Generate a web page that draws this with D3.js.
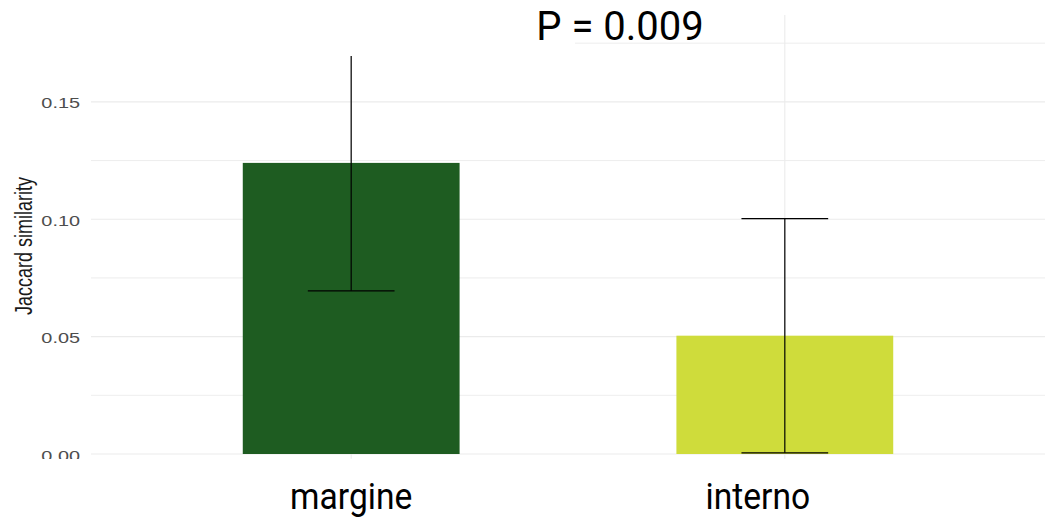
<!DOCTYPE html>
<html>
<head>
<meta charset="utf-8">
<script src="https://cdn.jsdelivr.net/npm/d3@7"></script>
<style>
  html, body { margin: 0; padding: 0; background: #fff; }
  svg { display: block; }
</style>
</head>
<body>
<svg id="chart" width="1046" height="524"></svg>
<script>
// Mean Jaccard similarity per zone, with standard deviation
const categories = ["margine", "interno"];
const meanValues = [0.124, 0.0504];
const sdValues = [0.0545, 0.0499];
const barColors = ["#1e5c21", "#cfdc3b"];
const majorTicks = [0, 0.05, 0.10, 0.15];
const minorTicks = [0.025, 0.075, 0.125, 0.175];
const pLabel = "P = 0.009";
const yTitle = "Jaccard similarity";

const svg = d3.select("#chart");
const W = 1046, H = 524;

// Panel geometry
const panel = { left: 91, right: 1045, top: 15, bottom: 458.7 };

// Discrete axis positions 1..n with ggplot-like 0.6 expansion
const x = d3.scaleLinear()
  .domain([0.4, categories.length + 0.6])
  .range([panel.left, panel.right]);
const xPos = i => x(i + 1);

const y = d3.scaleLinear()
  .domain([-0.002, 0.187])
  .range([panel.bottom, panel.top]);

const gridColor = "#ebebeb";

// Horizontal grid: minor then major
svg.append("g").selectAll("line.minor")
  .data(minorTicks).join("line")
  .attr("x1", panel.left).attr("x2", panel.right)
  .attr("y1", d => y(d)).attr("y2", d => y(d))
  .attr("stroke", gridColor).attr("stroke-width", 0.9);

svg.append("g").selectAll("line.major")
  .data(majorTicks).join("line")
  .attr("x1", panel.left).attr("x2", panel.right)
  .attr("y1", d => y(d)).attr("y2", d => y(d))
  .attr("stroke", gridColor).attr("stroke-width", 1.1);

// Vertical grid at each category
svg.append("g").selectAll("line")
  .data(categories).join("line")
  .attr("x1", (d, i) => xPos(i)).attr("x2", (d, i) => xPos(i))
  .attr("y1", panel.top).attr("y2", panel.bottom)
  .attr("stroke", gridColor).attr("stroke-width", 1.1);

// Bars (width 0.5 of a category step)
const step = x(2) - x(1);
const barW = step * 0.5;
svg.append("g").selectAll("rect")
  .data(categories).join("rect")
  .attr("x", (d, i) => xPos(i) - barW / 2)
  .attr("width", barW)
  .attr("y", (d, i) => y(meanValues[i]))
  .attr("height", (d, i) => y(0) - y(meanValues[i]))
  .attr("fill", (d, i) => barColors[i]);

// Error bars (cap width 0.2 of a step)
const capW = step * 0.2;
const eb = svg.append("g").attr("stroke", "#000").attr("stroke-width", 1.2).attr("fill", "none");
categories.forEach((c, i) => {
  const cx = xPos(i);
  const lo = y(meanValues[i] - sdValues[i]);
  const hi = y(meanValues[i] + sdValues[i]);
  eb.append("line").attr("x1", cx).attr("x2", cx).attr("y1", hi).attr("y2", lo);
  eb.append("line").attr("x1", cx - capW / 2).attr("x2", cx + capW / 2).attr("y1", hi).attr("y2", hi);
  eb.append("line").attr("x1", cx - capW / 2).attr("x2", cx + capW / 2).attr("y1", lo).attr("y2", lo);
});

// Opaque backing behind the p-value annotation
svg.append("rect")
  .attr("x", 0).attr("y", 0).attr("width", 575).attr("height", 56)
  .attr("fill", "#fff");

svg.append("text")
  .attr("x", 620).attr("y", 40)
  .attr("text-anchor", "middle")
  .attr("font-family", "Roboto, 'Noto Sans', sans-serif")
  .attr("font-size", 40)
  .attr("fill", "#000")
  .text(pLabel);

// Y tick labels
const fmt = d3.format(".2f");
svg.append("g").selectAll("text")
  .data(majorTicks).join("text")
  .attr("transform", d => `translate(80,${y(d) + 6.5}) scale(1.38,1)`)
  .attr("text-anchor", "end")
  .attr("font-family", "'Liberation Sans', Arial, sans-serif")
  .attr("font-size", 14.4)
  .attr("fill", "#4d4d4d")
  .text(d => fmt(d));

// Bottom strip is blank below the panel on the left
svg.append("rect")
  .attr("x", 0).attr("y", 459).attr("width", 88).attr("height", H - 459)
  .attr("fill", "#fff");

// Y axis title
svg.append("text")
  .attr("transform", "translate(32,246) scale(1.33,1) rotate(-90)")
  .attr("text-anchor", "middle")
  .attr("font-family", "'Liberation Sans', Arial, sans-serif")
  .attr("font-size", 18)
  .attr("fill", "#1a1a1a")
  .text(yTitle);

// Category labels (narrowed glyphs)
const labelShift = [0, -27];
svg.append("g").selectAll("text")
  .data(categories).join("text")
  .attr("transform", (d, i) => `translate(${xPos(i) + labelShift[i]},509) scale(0.96,1.06)`)
  .attr("text-anchor", "middle")
  .attr("font-family", "Roboto, 'Noto Sans', sans-serif")
  .attr("font-size", 35)
  .attr("fill", "#000")
  .text(d => d);
</script>
</body>
</html>
